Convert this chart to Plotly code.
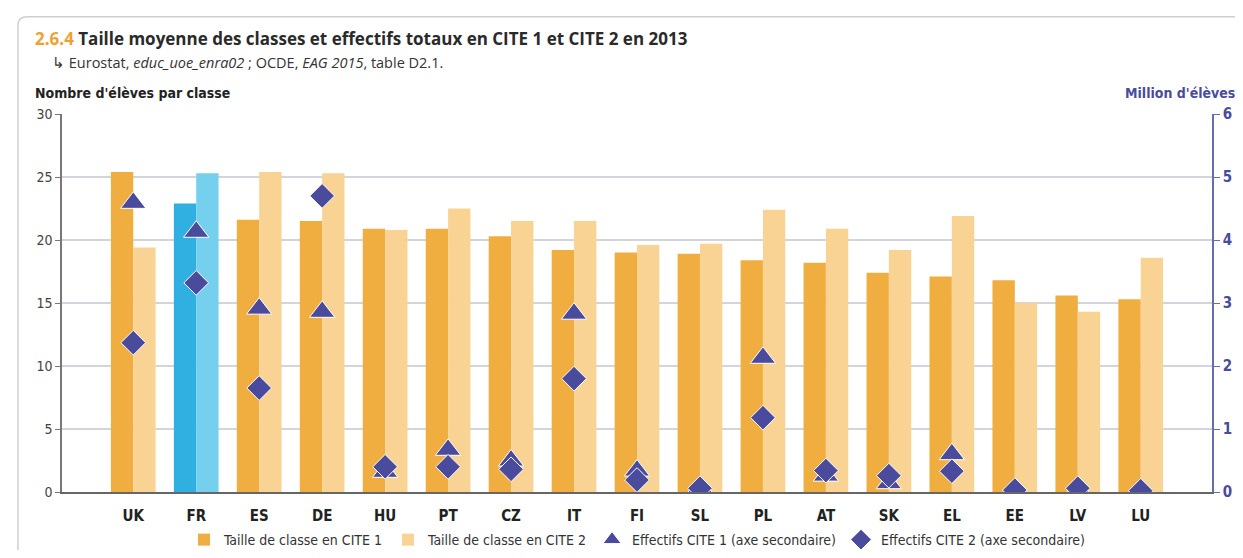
import plotly.graph_objects as go

countries = ["UK", "FR", "ES", "DE", "HU", "PT", "CZ", "IT", "FI", "SL", "PL", "AT", "SK", "EL", "EE", "LV", "LU"]
cite1_size = [25.4, 22.9, 21.6, 21.5, 20.9, 20.9, 20.3, 19.2, 19.0, 18.9, 18.4, 18.2, 17.4, 17.1, 16.8, 15.6, 15.3]
cite2_size = [19.4, 25.3, 25.4, 25.3, 20.8, 22.5, 21.5, 21.5, 19.6, 19.7, 22.4, 20.9, 19.2, 21.9, 15.0, 14.3, 18.6]
cite1_enrol = [4.59, 4.13, 2.91, 2.86, 0.32, 0.67, 0.50, 2.83, 0.34, 0.07, 2.13, 0.26, 0.14, 0.60, 0.01, 0.05, 0.00]
cite2_enrol = [2.37, 3.32, 1.65, 4.70, 0.40, 0.40, 0.36, 1.80, 0.19, 0.06, 1.18, 0.34, 0.26, 0.33, 0.03, 0.06, 0.02]

ORANGE = "#f0ae40"
LIGHT = "#f8d394"
BLUE = "#2fb0e0"
LBLUE = "#75d0ee"
PURPLE = "#4a4b9c"
NARROW = "Liberation Sans Narrow, DejaVu Sans Condensed, Roboto, sans-serif"
TITLEF = "Open Sans, Noto Sans, sans-serif"

c1_colors = [BLUE if c == "FR" else ORANGE for c in countries]
c2_colors = [LBLUE if c == "FR" else LIGHT for c in countries]

fig = go.Figure()
fig.add_trace(go.Bar(x=countries, y=cite1_size, name="Taille de classe en CITE 1",
                     marker=dict(color=c1_colors, line=dict(width=0))))
fig.add_trace(go.Bar(x=countries, y=cite2_size, name="Taille de classe en CITE 2",
                     marker=dict(color=c2_colors, line=dict(width=0))))
fig.add_trace(go.Scatter(x=countries, y=cite1_enrol, yaxis="y2", mode="markers",
                         name="Effectifs CITE 1 (axe secondaire)",
                         marker=dict(symbol="triangle-up", size=22, color=PURPLE,
                                     line=dict(color="white", width=1))))
fig.add_trace(go.Scatter(x=countries, y=cite2_enrol, yaxis="y2", mode="markers",
                         name="Effectifs CITE 2 (axe secondaire)",
                         marker=dict(symbol="diamond", size=19, color=PURPLE,
                                     line=dict(color="white", width=1))))

fig.update_layout(
    width=1227, height=542,
    margin=dict(l=54, r=23, t=106, b=58, autoexpand=False),
    paper_bgcolor="white", plot_bgcolor="white",
    barmode="group", bargap=0.29, bargroupgap=0.0,
    font=dict(family=NARROW, color="#333"),
    xaxis=dict(type="category", showgrid=False, showline=True, linecolor="#666", linewidth=1.5,
               ticks="", tickfont=dict(family=NARROW, size=15, color="#222", weight="bold"),
               ticklabelstandoff=9, automargin=False),
    yaxis=dict(range=[0, 30], dtick=5, showgrid=True, gridcolor="#d4d4dc", gridwidth=1.5,
               showline=True, linecolor="#777", linewidth=1.5, ticks="outside", ticklen=5,
               tickcolor="#777", tickfont=dict(family=NARROW, size=14, color="#444"),
               zeroline=False, automargin=False),
    yaxis2=dict(range=[0, 6], dtick=1, overlaying="y", side="right", showgrid=False,
                showline=True, linecolor="#6b6bb0", linewidth=1.5, ticks="outside", ticklen=6,
                tickcolor="#6b6bb0", tickfont=dict(family=NARROW, size=15, color=PURPLE, weight="bold"),
                zeroline=False, automargin=False),
    legend=dict(orientation="h", x=0.5, xanchor="center", y=-0.127, yanchor="middle",
                font=dict(family=NARROW, size=14, color="#333"), traceorder="normal"),
    showlegend=True,
)

# Card border
fig.add_shape(type="path", xref="paper", yref="paper",
              path="M -0.0383,-0.25 L -0.0383,1.235 Q -0.0383,1.257 -0.03,1.257 L 1.05,1.257",
              line=dict(color="#cfcfcf", width=1.5))

fig.add_annotation(xref="paper", yref="paper", x=-0.0252, y=1.201, xanchor="left", yanchor="middle",
                   showarrow=False,
                   text="<b><span style='color:#f0a030'>2.6.4</span> Taille moyenne des classes et effectifs totaux en CITE 1 et CITE 2 en 2013</b>",
                   font=dict(family=TITLEF, size=17, color="#2a2a2a"))
fig.add_annotation(xref="paper", yref="paper", x=-0.0104, y=1.135, xanchor="left", yanchor="middle",
                   showarrow=False,
                   text="↳ Eurostat, <i>educ_uoe_enra02</i> ; OCDE, <i>EAG 2015</i>, table D2.1.",
                   font=dict(family=TITLEF, size=14.5, color="#333"))
fig.add_annotation(xref="paper", yref="paper", x=-0.0252, y=1.056, xanchor="left", yanchor="middle",
                   showarrow=False, text="<b>Nombre d'élèves par classe</b>",
                   font=dict(family=NARROW, size=14, color="#222"))
fig.add_annotation(xref="paper", yref="paper", x=1.0217, y=1.056, xanchor="right", yanchor="middle",
                   showarrow=False, text="<b>Million d'élèves</b>",
                   font=dict(family=NARROW, size=14, color=PURPLE))

fig.write_html("out.html")
